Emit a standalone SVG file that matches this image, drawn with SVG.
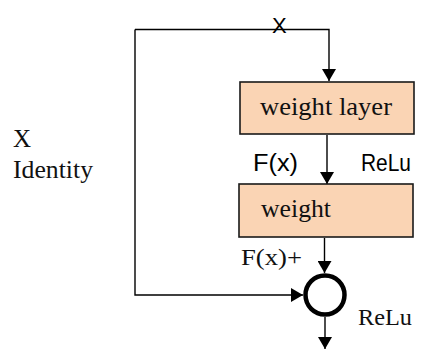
<svg xmlns="http://www.w3.org/2000/svg" width="422" height="349" viewBox="0 0 422 349">
<style>
.box{fill:#FAD4B4;stroke:#1a1a1a;stroke-width:1.6}
.ln{fill:none;stroke:#000;stroke-width:1.4}
.serif{font-family:"Liberation Serif","Times New Roman",serif;fill:#111}
.sans{font-family:"Liberation Sans",Arial,sans-serif;fill:#000}
</style>
<defs>
<marker id="ah" viewBox="0 0 12 14" refX="12" refY="7" markerWidth="12" markerHeight="14" markerUnits="userSpaceOnUse" orient="auto">
<path d="M0,0 L12,7 L0,14 Z" fill="#000"/>
</marker>
</defs>
<rect width="422" height="349" fill="#fff"/>
<g id="connectors">
<path class="ln" d="M135,29.5 H329 V81" marker-end="url(#ah)"/>
<path class="ln" d="M327,135 V184" marker-end="url(#ah)"/>
<path class="ln" d="M324.5,238 V273" marker-end="url(#ah)"/>
<path class="ln" d="M135,29.5 V295 H303" marker-end="url(#ah)"/>
<path class="ln" d="M325,317 V349" marker-end="url(#ah)"/>
</g>
<g id="weight-layer">
<rect class="box" x="240" y="82" width="174" height="52"/>
<text class="serif" x="260" y="115" font-size="25" textLength="132" lengthAdjust="spacingAndGlyphs">weight layer</text>
</g>
<g id="weight">
<rect class="box" x="239" y="184" width="174" height="53"/>
<text class="serif" x="261" y="217" font-size="25" textLength="70" lengthAdjust="spacingAndGlyphs">weight</text>
</g>
<g id="sum">
<circle cx="325" cy="295" r="19.5" fill="#fff" stroke="#000" stroke-width="4.5"/>
</g>
<g id="labels">
<text class="sans" x="272" y="33" font-size="22">X</text>
<text class="serif" x="13" y="147" font-size="25">X</text>
<text class="serif" x="13" y="178" font-size="25" textLength="80" lengthAdjust="spacingAndGlyphs">Identity</text>
<text class="sans" x="253" y="171" font-size="23" textLength="45" lengthAdjust="spacingAndGlyphs">F(x)</text>
<text class="sans" x="361" y="171" font-size="23" textLength="50" lengthAdjust="spacingAndGlyphs">ReLu</text>
<text class="serif" x="241" y="265" font-size="24" textLength="61" lengthAdjust="spacingAndGlyphs">F(x)+</text>
<text class="serif" x="358" y="325" font-size="24" textLength="54" lengthAdjust="spacingAndGlyphs">ReLu</text>
</g>
</svg>
